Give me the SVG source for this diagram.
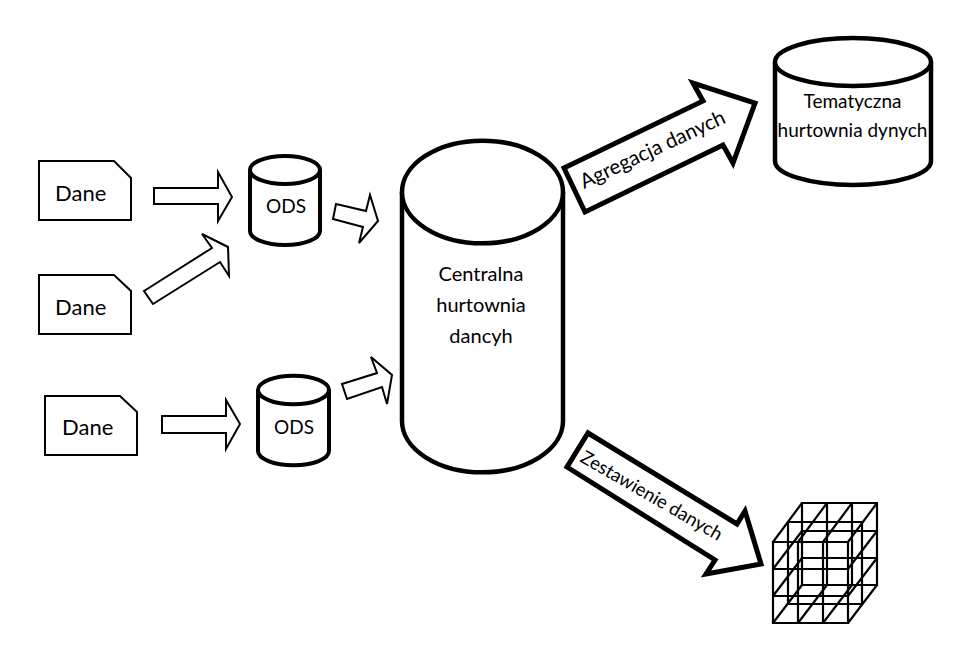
<svg xmlns="http://www.w3.org/2000/svg" width="960" height="645" viewBox="0 0 960 645">
<style>
text{font-family:Lato,"Liberation Sans",sans-serif;fill:#000}
.doc{fill:#fff;stroke:#000;stroke-width:2}
.cyl{fill:#fff;stroke:#000;stroke-width:4}
.cylc{fill:#fff;stroke:#000;stroke-width:4.5}
.a1{fill:#fff;stroke:#000;stroke-width:2}
.a2{fill:#fff;stroke:#000;stroke-width:5}
.cube{fill:none;stroke:#000;stroke-width:2.2}
</style>
<rect width="960" height="645" fill="#fff"/>
<g id="connectors">
<polygon class="a1" points="154,188 218,188 218,172 232,197 218,221 218,204 154,204"/>
<polygon class="a1" points="144,291 212,248 202,234 228,247 229,276 220,262 153,304"/>
<polygon class="a1" points="336,204 366,211 370,195 378,221 359,243 363,227 333,219"/>
<polygon class="a1" points="162,416 226,416 226,400 240,424 226,449 226,433 162,433"/>
<polygon class="a1" points="342,384 377,373 371,357 392,375 387,404 382,387 347,399"/>
<g id="edge-agregacja">
<polygon class="a2" points="564,168 703,101 693,83 755,103 733,163 723,145 585,212"/>
<text transform="translate(584,189) rotate(-25)" font-size="20.500">Agregacja danych</text>
</g>
<g id="edge-zestawienie">
<polygon class="a2" points="588,433 737,524 745,511 761,564 706,574 715,560 567,467"/>
<text transform="translate(579,461) rotate(30)" font-size="18.500">Zestawienie danych</text>
</g>
</g>
<g id="doc1"><polygon class="doc" points="39,161 114,161 131,178 131,220 39,220"/><text x="55" y="201" font-size="22">Dane</text></g>
<g id="doc2"><polygon class="doc" points="39,275 114,275 131,291 131,334 39,334"/><text x="55" y="315" font-size="22">Dane</text></g>
<g id="doc3"><polygon class="doc" points="45,396 120,396 137,412 137,455 45,455"/><text x="62" y="435" font-size="22">Dane</text></g>
<g id="ods1">
<path class="cyl" d="M250,170A35,14 0 0 1 320,170V231A35,14 0 0 1 250,231Z"/>
<path class="cyl" d="M250,170A35,14 0 0 0 320,170"/>
<text x="286" y="213" font-size="19" text-anchor="middle">ODS</text>
</g>
<g id="ods2">
<path class="cyl" d="M258,390A35,14 0 0 1 329,390V451A35,14 0 0 1 258,451Z"/>
<path class="cyl" d="M258,390A35,14 0 0 0 329,390"/>
<text x="294" y="434" font-size="19" text-anchor="middle">ODS</text>
</g>
<g id="central">
<path class="cylc" d="M402,192A80,51 0 0 1 563,192V421A80,51 0 0 1 402,421Z"/>
<path class="cylc" d="M402,192A80,51 0 0 0 563,192"/>
<text x="481" y="281" font-size="20" text-anchor="middle">Centralna</text>
<text x="481" y="312" font-size="20" text-anchor="middle">hurtownia</text>
<text x="481" y="343" font-size="20" text-anchor="middle">dancyh</text>
</g>
<g id="tematyczna">
<path class="cylc" d="M775,62A78,24 0 0 1 931,62V161A78,24 0 0 1 775,161Z"/>
<path class="cylc" d="M775,62A78,24 0 0 0 931,62"/>
<text x="852.500" y="108" font-size="19" text-anchor="middle">Tematyczna</text>
<text x="852.500" y="137" font-size="19" text-anchor="middle">hurtownia dynych</text>
</g>
<g id="cube">
<path class="cube" d="M773,542H848V623H773ZM798,542V623M823,542V623M773,569H848M773,596H848"/>
<path class="cube" d="M802,503H877V585H802ZM827,503V585M852,503V585M802,531H877M802,558H877"/>
<path class="cube" d="M788,522H862V604H788Z"/>
<path class="cube" d="M773,542L802,503M798,542L827,503M823,542L852,503M848,542L877,503M848,569L877,531M848,596L877,558M848,623L877,585M823,623L852,585M798,623L827,585M773,623L802,585M773,596L802,558M773,569L802,531"/>
</g>
</svg>
